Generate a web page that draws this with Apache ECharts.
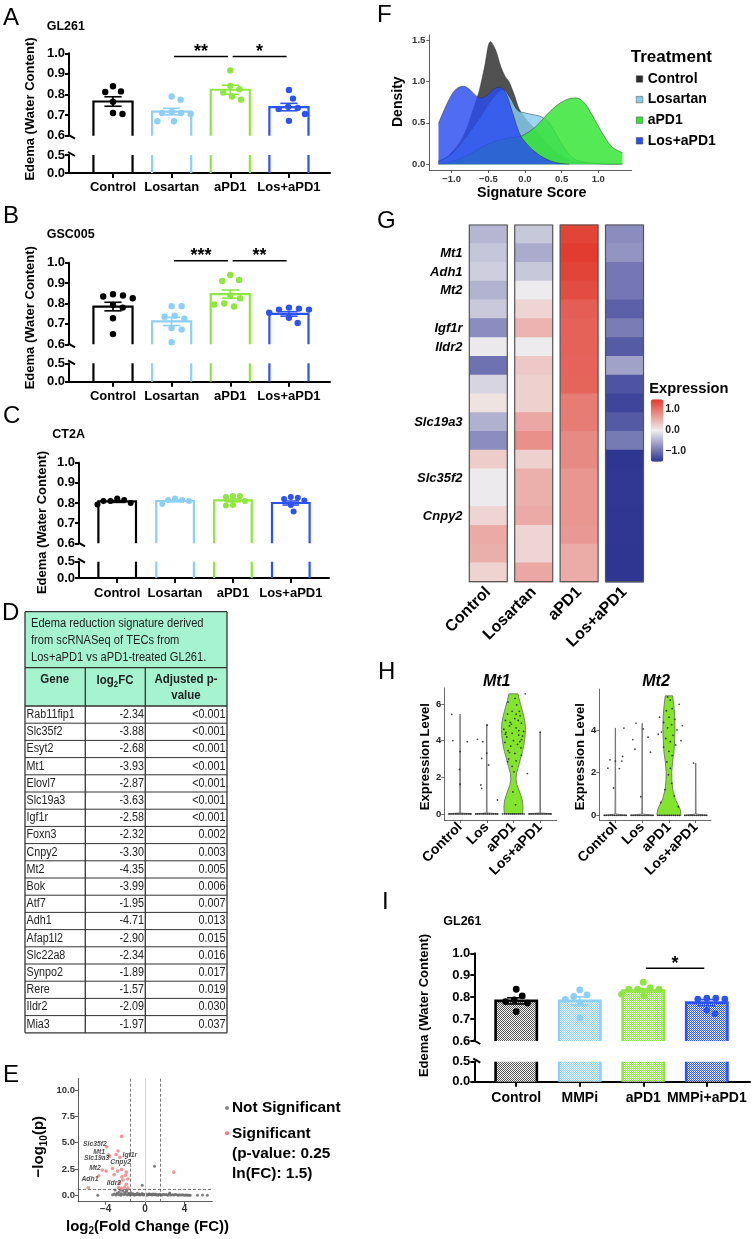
<!DOCTYPE html>
<html>
<head>
<meta charset="utf-8">
<script src="https://cdn.jsdelivr.net/npm/echarts@6.0.0/dist/echarts.min.js"></script>
<style>
html,body{margin:0;padding:0;background:#fff;}
#chart{width:752px;height:1239px;}
</style>
</head>
<body>
<div id="chart"></div>
<script>
// ================= DATA =================
const barCats = ['Control', 'Losartan', 'aPD1', 'Los+aPD1'];
const mmpiCats = ['Control', 'MMPi', 'aPD1', 'MMPi+aPD1'];

// Panel A – GL261
const meanA = [0.766, 0.717, 0.823, 0.739];
const semA = [0.023, 0.016, 0.022, 0.018];
const dotsA = [
  [0.84, 0.812, 0.815, 0.765, 0.705, 0.71],
  [0.79, 0.775, 0.715, 0.71, 0.71, 0.705, 0.67, 0.67],
  [0.917, 0.842, 0.826, 0.81, 0.79, 0.775],
  [0.822, 0.78, 0.74, 0.735, 0.73, 0.705, 0.672]
];
const sigA = [[1, 2, '**'], [2, 3, '*']];

// Panel B – GSC005
const meanB = [0.785, 0.712, 0.846, 0.749];
const semB = [0.021, 0.02, 0.02, 0.011];
const dotsB = [
  [0.845, 0.839, 0.834, 0.826, 0.793, 0.78, 0.728, 0.65],
  [0.787, 0.787, 0.74, 0.735, 0.725, 0.68, 0.672, 0.61],
  [0.94, 0.915, 0.91, 0.84, 0.825, 0.80, 0.795, 0.785],
  [0.78, 0.775, 0.77, 0.77, 0.755, 0.73, 0.705]
];
const sigB = [[1, 2, '***'], [2, 3, '**']];

// Panel C – CT2A
const meanC = [0.808, 0.81, 0.813, 0.80];
const semC = [0.005, 0.004, 0.007, 0.01];
const dotsC = [
  [0.822, 0.815, 0.81, 0.81, 0.80, 0.792],
  [0.822, 0.815, 0.815, 0.81, 0.795],
  [0.835, 0.835, 0.83, 0.81, 0.79, 0.788],
  [0.83, 0.826, 0.82, 0.812, 0.79, 0.758]
];

// Panel I – GL261 MMPi
const meanI = [0.783, 0.783, 0.83, 0.775];
const semI = [0.014, 0.018, 0.008, 0.014];
const dotsI = [
  [0.836, 0.806, 0.788, 0.78, 0.773, 0.734],
  [0.833, 0.81, 0.803, 0.79, 0.774, 0.705],
  [0.868, 0.843, 0.836, 0.836, 0.836, 0.813, 0.806],
  [0.795, 0.795, 0.791, 0.791, 0.74, 0.724]
];
const sigI = [[2, 3, '*']];

// Panel D – table
const tableTitle = ['Edema reduction signature derived', 'from scRNASeq of TECs from', 'Los+aPD1 vs aPD1-treated GL261.'];
const tableGenes = ['Rab11fip1', 'Slc35f2', 'Esyt2', 'Mt1', 'Elovl7', 'Slc19a3', 'Igf1r', 'Foxn3', 'Cnpy2', 'Mt2', 'Bok', 'Atf7', 'Adh1', 'Afap1l2', 'Slc22a8', 'Synpo2', 'Rere', 'Ildr2', 'Mia3'];
const tableLog2FC = ['-2.34', '-3.88', '-2.68', '-3.93', '-2.87', '-3.63', '-2.58', '-2.32', '-3.30', '-4.35', '-3.99', '-1.95', '-4.71', '-2.90', '-2.34', '-1.89', '-1.57', '-2.09', '-1.97'];
const tablePadj = ['<0.001', '<0.001', '<0.001', '<0.001', '<0.001', '<0.001', '<0.001', '0.002', '0.003', '0.005', '0.006', '0.007', '0.013', '0.015', '0.016', '0.017', '0.019', '0.030', '0.037'];

// Panel E – volcano
const volcanoNS = [[-3.3,0.05],[-3.12,0.14],[-2.97,0.03],[-2.83,0.22],[-2.71,0.08],[-2.62,0.31],[-2.49,0.02],[-2.41,0.16],[-2.28,0.42],[-2.19,0.06],[-2.08,0.24],[-1.98,0.1],[-1.9,0.36],[-1.79,0.04],[-1.68,0.19],[-1.61,0.12],[-1.52,0.03],[-1.43,0.26],[-1.31,0.08],[-1.22,0.15],[-1.1,0.02],[-1.02,0.11],[-0.91,0.05],[-0.8,0.19],[-0.71,0.07],[-0.6,0.13],[-0.52,0.03],[-0.4,0.09],[-0.31,0.17],[-0.2,0.04],[-0.12,0.11],[0.01,0.06],[0.09,0.14],[0.21,0.02],[0.3,0.08],[0.41,0.15],[0.5,0.05],[0.62,0.1],[0.7,0.03],[0.81,0.12],[0.9,0.06],[1.02,0.14],[1.1,0.04],[1.21,0.09],[1.33,0.02],[1.42,0.11],[1.56,0.06],[1.69,0.03],[1.83,0.1],[1.98,0.05],[2.14,0.08],[2.29,0.02],[2.43,0.12],[2.58,0.04],[2.76,0.07],[2.91,0.03],[3.04,0.09],[3.21,0.05],[3.36,0.02],[3.49,0.06],[3.66,0.03],[3.81,0.05],[3.97,0.02],[4.12,0.04],[4.27,0.03],[4.41,0.01],[4.56,0.02],[5.3,0.02],[5.8,0.03],[6.3,0.02],[-4.8,0.02],[0.95,2.75],[-0.3,0.95],[2.5,0.22],[-3.05,0.5],[-2.5,0.55],[-1.85,0.5]];
const volcanoSig = [[-2.38,5.59],[-3.9,4.6],[-2.75,4.2],[-2.95,3.88],[-3.7,3.85],[-3.6,3.7],[-2.55,3.6],[-3.3,2.55],[-4.35,2.4],[-3.95,2.3],[-4.7,1.85],[-2.8,2.3],[-2.4,2.45],[-1.9,2.2],[-3.15,1.95],[-2.35,1.75],[-2.0,1.9],[-1.75,1.55],[-2.25,1.45],[-2.6,1.2],[-1.9,1.05],[-2.1,0.8],[-2.7,0.75],[-1.75,0.7],[-2.4,0.65],[-5.76,0.72],[2.9,2.2]];
const volcanoSigGene = ['', 'Slc35f2', '', '', 'Mt1', 'Slc19a3', 'Igf1r', 'Cnpy2', 'Mt2', '', 'Adh1', '', '', '', '', '', '', '', '', '', '', 'Ildr2', '', '', '', '', ''];
const pThreshold = 0.25;
const fcThreshold = 1.5;

// Panel F – density of signature score
const densNames = ['Control', 'Losartan', 'aPD1', 'Los+aPD1'];
const densCtrlX = [-1.18,-1.05,-0.9,-0.8,-0.7,-0.62,-0.55,-0.47,-0.4,-0.33,-0.27,-0.22,-0.15,-0.08,0.0,0.1,0.2,0.3,0.4,0.5,0.6,0.75,0.9,1.05,1.2,1.33];
const densCtrlY = [0.04,0.1,0.25,0.42,0.68,0.9,1.18,1.48,1.38,1.18,1.06,1.0,0.85,0.67,0.56,0.46,0.36,0.26,0.17,0.1,0.05,0.02,0.01,0.005,0.002,0.001];
const densLosX = [-1.18,-1.0,-0.8,-0.6,-0.45,-0.3,-0.2,-0.1,0.0,0.1,0.2,0.3,0.4,0.5,0.6,0.7,0.85,1.0,1.15,1.33];
const densLosY = [0.03,0.12,0.33,0.58,0.78,0.9,0.8,0.65,0.62,0.6,0.58,0.53,0.4,0.25,0.12,0.05,0.02,0.008,0.003,0.001];
const densAPD1X = [-1.18,-1.0,-0.8,-0.6,-0.4,-0.2,-0.05,0.1,0.2,0.3,0.45,0.6,0.7,0.8,0.9,1.0,1.1,1.2,1.33];
const densAPD1Y = [0.005,0.03,0.1,0.2,0.28,0.32,0.34,0.42,0.5,0.6,0.72,0.79,0.8,0.75,0.62,0.46,0.31,0.2,0.14];
const densComboX = [-1.18,-1.1,-1.0,-0.92,-0.84,-0.75,-0.67,-0.6,-0.52,-0.44,-0.35,-0.29,-0.24,-0.19,-0.15,-0.1,-0.05,0.05,0.15,0.25,0.35,0.45,0.6];
const densComboY = [0.49,0.66,0.84,0.92,0.94,0.9,0.83,0.8,0.83,0.9,0.93,0.9,0.82,0.68,0.57,0.43,0.33,0.22,0.14,0.08,0.04,0.015,0.0];

// Panel G – heatmap (19 genes x 4 groups)
const heatCols = ['Control', 'Losartan', 'aPD1', 'Los+aPD1'];
const heatRowLabels = ['', 'Mt1', 'Adh1', 'Mt2', '', 'Igf1r', 'Ildr2', '', '', '', 'Slc19a3', '', '', 'Slc35f2', '', 'Cnpy2', '', '', ''];
const heatControl = [-0.44,-0.32,-0.25,-0.47,-0.29,-0.77,-0.04,-0.98,-0.2,0.09,-0.48,-0.77,0.28,-0.03,-0.03,0.21,0.56,0.52,0.22];
const heatLosartan = [-0.3,-0.53,-0.3,-0.02,0.21,0.48,-0.02,0.31,0.25,0.25,0.58,0.77,0.25,0.51,0.51,0.56,0.21,0.21,0.58];
const heatAPD1 = [1.4,1.46,1.4,1.33,1.18,1.15,1.15,1.14,1.13,0.94,0.94,0.82,0.82,0.72,0.72,0.72,0.7,0.54,0.54];
const heatLosAPD1 = [-0.77,-0.71,-0.94,-0.94,-1.12,-0.9,-1.16,-0.6,-1.22,-1.34,-1.17,-0.91,-1.46,-1.44,-1.44,-1.45,-1.45,-1.46,-1.46];

// Panel H – violins
const vlnCats = ['Control', 'Los', 'aPD1', 'Los+aPD1'];
const mt1Max = [5.45, 4.9, 6.55, 4.48];
const mt1APD1V = [0,0.15,0.4,0.7,1.0,1.3,1.6,1.9,2.2,2.6,3.0,3.4,3.8,4.2,4.6,5.0,5.4,5.8,6.2,6.55];
const mt1APD1D = [0.75,0.78,0.79,0.75,0.62,0.46,0.29,0.22,0.25,0.42,0.58,0.75,0.88,0.96,1,0.96,0.83,0.67,0.5,0.38];
const mt2Max = [4.09, 4.31, 5.6, 2.45];
const mt2APD1V = [0,0.25,0.5,0.75,1.2,1.6,2.0,2.5,3.0,3.5,4.0,4.5,5.0,5.6];
const mt2APD1D = [1,0.95,0.75,0.53,0.32,0.25,0.23,0.3,0.42,0.47,0.5,0.49,0.43,0.31];
const vlnZeroOffsets = [-0.41,-0.34,-0.26,-0.18,-0.11,-0.04,0.03,0.1,0.18,0.25,0.33,0.4];
const mt1Points = [
  [[-0.31,5.43],[-0.27,4.0],[0.27,3.94],[0,3.4],[-0.02,2.43],[0,1.62]],
  [[-0.35,4.07],[-0.15,3.94],[-0.19,3.03],[0,3.31],[-0.22,1.58],[-0.19,1.4],[0.02,4.85],[0.07,2.67],[0.4,0.76]],
  [[-0.2,6.1],[0.12,5.95],[-0.05,5.6],[0.25,5.35],[-0.3,5.1],[0.05,5.2],[0.3,4.95],[-0.15,4.8],[0.1,4.7],[-0.36,4.62],[0.38,4.5],[-0.05,4.4],[0.2,4.3],[-0.25,4.2],[0.3,4.05],[0.0,4.0],[-0.32,3.9],[0.15,3.8],[-0.1,3.7],[0.28,3.6],[-0.2,3.45],[0.05,3.3],[0.3,3.2],[-0.18,3.0],[0.1,2.9],[-0.22,2.85],[-0.05,2.6],[0.02,2.3],[0.52,2.2],[0.2,4.55],[-0.12,5.0],[0.22,5.6],[0.44,6.55],[-0.28,4.45],[0.34,4.25],[-0.08,4.9],[0.18,5.1],[-0.22,5.45],[0.06,6.3],[-0.15,3.35],[0.24,3.95],[-0.3,4.35],[0.1,5.45],[-0.02,1.2],[0.08,0.5]],
  [[0,4.45]]
];
const mt2Points = [
  [[-0.28,2.21],[0,2.54],[0.24,2.54],[0.15,2.19],[0.27,2.76],[0.32,4.09],[-0.07,1.28],[-0.2,2.6]],
  [[-0.23,4.31],[-0.27,3.1],[-0.05,0.87],[0.22,3.66],[0.31,2.96],[0.04,4.05],[-0.35,3.55]],
  [[-0.05,5.55],[0.05,5.4],[0.12,5.0],[-0.1,4.9],[0.0,4.6],[0.22,4.5],[-0.2,4.35],[0.1,4.25],[-0.05,4.1],[0.3,4.0],[-0.28,3.9],[0.15,3.75],[-0.12,3.6],[0.05,3.45],[0.25,3.3],[-0.2,3.2],[0.0,3.0],[0.12,2.8],[-0.08,2.5],[0.05,2.2],[-0.02,1.9],[0.1,1.5],[-0.15,1.2],[0.2,0.9],[-0.3,0.6],[0.35,0.4],[0.45,3.5],[-0.4,3.8],[0.5,4.2],[-0.35,4.6],[0.38,5.2]],
  [[-0.08,2.45]]
];

// ================= STYLE / LAYOUT =================
const FONT = "'Liberation Sans', Arial, Helvetica, sans-serif";
const groupColors = ['#000000', '#8ecff5', '#8fe640', '#2d52f2'];
const grid = [], xAxis = [], yAxis = [], series = [], graphic = [];

function font(size, weight, italic) {
  return (italic ? 'italic ' : '') + (weight || 'normal') + ' ' + size + 'px ' + FONT;
}
function T(text, x, y, o) {
  o = o || {};
  const st = {
    text: text, fill: o.color || '#000', font: font(o.size || 13, o.weight, o.italic),
    textAlign: o.align || 'left', textVerticalAlign: o.va || 'middle',
    align: o.align || 'left', verticalAlign: o.va || 'middle'
  };
  if (o.rich) st.rich = o.rich;
  graphic.push({type: 'text', x: x, y: y, rotation: o.rot || 0, scaleX: o.sx || 1, scaleY: 1, silent: true, z: 100, style: st});
}
function L(x1, y1, x2, y2, w, c) {
  graphic.push({type: 'line', silent: true, z: 90, shape: {x1: x1, y1: y1, x2: x2, y2: y2}, style: {stroke: c || '#333', lineWidth: w || 1}});
}

function makePattern(col) {
  const c = document.createElement('canvas');
  c.width = 2; c.height = 2;
  const g = c.getContext('2d');
  g.fillStyle = '#ffffff'; g.fillRect(0, 0, 2, 2);
  g.fillStyle = col; g.fillRect(0, 0, 1, 1); g.fillRect(1, 1, 1, 1);
  return {image: c, repeat: 'repeat'};
}

// simple deterministic beeswarm in pixel space (layout only)
function swarm(ys, gap) {
  const order = ys.map((y, i) => i).sort((a, b) => ys[a] - ys[b]);
  const placed = [], res = new Array(ys.length);
  order.forEach(i => {
    const y = ys[i];
    let best = 0;
    for (let k = 0; k < 400; k++) {
      const off = k === 0 ? 0 : (k % 2 === 1 ? 1 : -1) * Math.ceil(k / 2) * 0.25;
      let ok = true;
      for (const p of placed) {
        const dx = p[0] - off, dy = p[1] - y;
        if (dx * dx + dy * dy < gap * gap) { ok = false; break; }
      }
      if (ok) { best = off; break; }
    }
    placed.push([best, y]); res[i] = best;
  });
  return res;
}

function yAxisBar(gi, vals) {
  return {
    gridIndex: gi, type: 'value', min: vals[0], max: vals[vals.length - 1],
    axisLine: {show: true, onZero: false, lineStyle: {color: '#000', width: 2}},
    axisTick: {show: true, customValues: vals, length: 4, lineStyle: {color: '#000', width: 2}},
    axisLabel: {customValues: vals, color: '#000', fontSize: 13, fontWeight: 'bold', fontFamily: FONT, margin: 4, formatter: v => v.toFixed(1)},
    splitLine: {show: false}
  };
}

function barPanel(p) {
  const gu = grid.length; grid.push({left: p.left, top: p.upTop, width: p.width, height: p.upH});
  const gl = grid.length; grid.push({left: p.left, top: p.loTop, width: p.width, height: p.loH});
  const xu = xAxis.length; xAxis.push({gridIndex: gu, type: 'value', min: p.xmin, max: p.xmax, show: false});
  const xl = xAxis.length;
  xAxis.push({
    gridIndex: gl, type: 'value', min: p.xmin, max: p.xmax,
    axisLine: {show: true, onZero: false, lineStyle: {color: '#000', width: 2}},
    axisTick: {show: true, customValues: [0, 1, 2, 3], length: 5, lineStyle: {color: '#000', width: 2}},
    axisLabel: {customValues: [0, 1, 2, 3], formatter: v => p.cats[Math.round(v)], color: '#000', fontSize: p.xfs, fontWeight: 'bold', fontFamily: FONT, margin: p.xm},
    splitLine: {show: false}
  });
  const yu = yAxis.length; yAxis.push(yAxisBar(gu, [0.6, 0.7, 0.8, 0.9, 1.0]));
  const yl = yAxis.length; yAxis.push(yAxisBar(gl, [0, 0.5]));

  series.push({
    type: 'custom', xAxisIndex: xu, yAxisIndex: yu, silent: true, z: 3,
    data: p.mean.map((m, i) => [i, m, p.sem[i]]),
    renderItem: function (params, api) {
      const i = api.value(0), m = api.value(1), s = api.value(2);
      const c = api.coord([i, m]), b = api.coord([i, 0.6]);
      const bw = api.size([p.barW, 0])[0];
      const col = groupColors[i];
      const xa = c[0] - bw / 2, xb = c[0] + bw / 2;
      const ch = [];
      if (p.patterns) ch.push({type: 'rect', shape: {x: xa, y: c[1], width: bw, height: b[1] - c[1]}, style: {fill: p.patterns[i]}});
      ch.push({type: 'polyline', shape: {points: [[xa, b[1]], [xa, c[1]], [xb, c[1]], [xb, b[1]]]}, style: {stroke: col, lineWidth: p.lw, fill: null}});
      const ys = p.dots[i].map(v => api.coord([i, v])[1]);
      const offs = swarm(ys, p.dotGap);
      ys.forEach((y, k) => ch.push({type: 'circle', shape: {cx: c[0] + offs[k], cy: y, r: p.dotR}, style: {fill: col}}));
      const et = api.coord([i, m + s])[1], eb = api.coord([i, m - s])[1], cw = bw * 0.22;
      ch.push({type: 'line', shape: {x1: c[0], y1: et, x2: c[0], y2: eb}, style: {stroke: col, lineWidth: 1.6}});
      ch.push({type: 'line', shape: {x1: c[0] - cw, y1: et, x2: c[0] + cw, y2: et}, style: {stroke: col, lineWidth: 1.6}});
      ch.push({type: 'line', shape: {x1: c[0] - cw, y1: eb, x2: c[0] + cw, y2: eb}, style: {stroke: col, lineWidth: 1.6}});
      if (params.dataIndex === 0) {
        const a = api.coord([p.xmin, 0.6]);
        ch.push({type: 'line', shape: {x1: a[0] - 1, y1: a[1] - 1, x2: a[0] + 6, y2: a[1] + 3}, style: {stroke: '#000', lineWidth: 2}});
      }
      return {type: 'group', children: ch};
    }
  });
  series.push({
    type: 'custom', xAxisIndex: xl, yAxisIndex: yl, silent: true, z: 3,
    data: p.mean.map((m, i) => [i, 0]),
    renderItem: function (params, api) {
      const i = api.value(0);
      const t = api.coord([i, 0.5]), b = api.coord([i, 0]);
      const bw = api.size([p.barW, 0])[0];
      const col = groupColors[i];
      const xa = t[0] - bw / 2, xb = t[0] + bw / 2;
      const ch = [];
      if (p.patterns) ch.push({type: 'rect', shape: {x: xa, y: t[1], width: bw, height: b[1] - t[1]}, style: {fill: p.patterns[i]}});
      ch.push({type: 'line', shape: {x1: xa, y1: t[1], x2: xa, y2: b[1]}, style: {stroke: col, lineWidth: p.lw}});
      ch.push({type: 'line', shape: {x1: xb, y1: t[1], x2: xb, y2: b[1]}, style: {stroke: col, lineWidth: p.lw}});
      if (params.dataIndex === 0) {
        const a = api.coord([p.xmin, 0.5]);
        ch.push({type: 'line', shape: {x1: a[0] - 1, y1: a[1] - 3, x2: a[0] + 6, y2: a[1] + 1}, style: {stroke: '#000', lineWidth: 2}});
      }
      return {type: 'group', children: ch};
    }
  });
  if (p.sig) {
    series.push({
      type: 'custom', xAxisIndex: xu, yAxisIndex: yu, silent: true, z: 4,
      data: p.sig.map(s => [s[0], s[1]]),
      renderItem: function (params, api) {
        const a = api.coord([api.value(0) + 0.04, p.sigY]);
        const b = api.coord([api.value(1) - 0.04, p.sigY]);
        return {type: 'group', children: [
          {type: 'line', shape: {x1: a[0], y1: a[1], x2: b[0], y2: b[1]}, style: {stroke: '#000', lineWidth: 1.5}},
          {type: 'text', x: (a[0] + b[0]) / 2, y: a[1] - 4.3, style: {text: p.sig[params.dataIndex][2], font: font(18, 'bold'), fill: '#000', align: 'center', verticalAlign: 'middle'}}
        ]};
      }
    });
  }
  T(p.letter, p.letterX, p.letterY, {size: 24});
  T(p.sub, p.subX, p.subY, {size: 12.5, weight: 'bold'});
  T('Edema (Water Content)', p.ytX, p.ytY, {size: 13, weight: 'bold', align: 'center', rot: Math.PI / 2});
}

// ---- Panels A, B, C, I ----
barPanel({cats: barCats, mean: meanA, sem: semA, dots: dotsA, sig: sigA, left: 69, width: 261, xmin: -0.75, xmax: 3.70,
  upTop: 53.3, upH: 82.4, loTop: 155, loH: 18, sigY: 0.984, barW: 0.667, dotR: 3.2, dotGap: 9.5, lw: 2.2, xfs: 13, xm: 8,
  letter: 'A', letterX: 3, letterY: 18.5, sub: 'GL261', subX: 46.7, subY: 26.7, ytX: 30, ytY: 109});
barPanel({cats: barCats, mean: meanB, sem: semB, dots: dotsB, sig: sigB, left: 69, width: 261, xmin: -0.75, xmax: 3.70,
  upTop: 262.7, upH: 81.6, loTop: 363.3, loH: 18.4, sigY: 1.01, barW: 0.667, dotR: 3.2, dotGap: 10, lw: 2.2, xfs: 13, xm: 8,
  letter: 'B', letterX: 3, letterY: 216.7, sub: 'GSC005', subX: 46.7, subY: 235, ytX: 30, ytY: 317.7});
barPanel({cats: barCats, mean: meanC, sem: semC, dots: dotsC, sig: null, left: 79, width: 250, xmin: -0.66, xmax: 3.66,
  upTop: 462.7, upH: 80.6, loTop: 561.7, loH: 16.3, sigY: 1, barW: 0.65, dotR: 3.0, dotGap: 7, lw: 2.2, xfs: 13, xm: 9,
  letter: 'C', letterX: 3, letterY: 416.7, sub: 'CT2A', subX: 52.3, subY: 435, ytX: 42, ytY: 522.5});
barPanel({cats: mmpiCats, mean: meanI, sem: semI, dots: dotsI, sig: sigI, left: 474.3, width: 275.7, xmin: -0.66, xmax: 3.68,
  upTop: 953.3, upH: 87.7, loTop: 1061.7, loH: 20, sigY: 0.932, barW: 0.65, dotR: 3.4, dotGap: 8.8, lw: 2.6, xfs: 14, xm: 9,
  patterns: ['#555555', '#8ecff5', '#8fe640', '#2d52f2'].map(makePattern),
  letter: 'I', letterX: 382, letterY: 902, sub: 'GL261', subX: 443.3, subY: 922, ytX: 424, ytY: 1005.5});

// ---- Panel D: table ----
(function () {
  const Lx = 25, Rx = 227, C1 = 85.3, C2 = 145.3, TT = 611.7, TB = 667.7, HB = 706, RH = 17.2;
  const bottom = HB + RH * tableGenes.length;
  graphic.push({type: 'rect', silent: true, z: 80, shape: {x: Lx, y: TT, width: Rx - Lx, height: HB - TT}, style: {fill: '#a6f4cf'}});
  L(Lx, TT, Rx, TT, 1.3); L(Lx, TT, Lx, bottom, 1.3); L(Rx, TT, Rx, bottom, 1.3); L(Lx, bottom, Rx, bottom, 1.3);
  L(Lx, TB, Rx, TB, 1.3); L(Lx, HB, Rx, HB, 1.3);
  L(C1, TB, C1, bottom, 1.3); L(C2, TB, C2, bottom, 1.3);
  for (let k = 1; k < tableGenes.length; k++) L(Lx, HB + RH * k, Rx, HB + RH * k, 1);
  tableTitle.forEach((t, k) => T(t, 31, 623.3 + k * 17, {size: 12.5, color: '#222', sx: 0.89}));
  T('Gene', 54.7, 680, {size: 12.5, weight: 'bold', align: 'center', color: '#222', sx: 0.92});
  T('{a|log}{b|2}{a|FC}', 115, 681, {align: 'center', sx: 0.92, rich: {
    a: {fontSize: 12.5, fontWeight: 'bold', fontFamily: FONT, fill: '#222', lineHeight: 16},
    b: {fontSize: 8.5, fontWeight: 'bold', fontFamily: FONT, fill: '#222', lineHeight: 16, verticalAlign: 'bottom'}}});
  T('Adjusted p-', 186, 680, {size: 12.5, weight: 'bold', align: 'center', color: '#222', sx: 0.92});
  T('value', 186, 696, {size: 12.5, weight: 'bold', align: 'center', color: '#222', sx: 0.92});
  tableGenes.forEach((g, i) => {
    const y = HB + RH * (i + 0.5);
    T(g, 26.5, y, {size: 12.5, color: '#222', sx: 0.86});
    T(tableLog2FC[i], 144, y, {size: 12.5, color: '#222', sx: 0.86, align: 'right'});
    T(tablePadj[i], 225.5, y, {size: 12.5, color: '#222', sx: 0.86, align: 'right'});
  });
  T('D', 2, 613.5, {size: 24});
})();

// ---- Panel E: volcano ----
(function () {
  const g = grid.length; grid.push({left: 78, top: 1078.3, width: 134.3, height: 123.4});
  const xi = xAxis.length;
  xAxis.push({gridIndex: g, type: 'value', min: -6.8, max: 6.8,
    axisLine: {onZero: false, lineStyle: {color: '#333', width: 0.8}},
    axisTick: {customValues: [-4, 0, 4], length: 3, lineStyle: {color: '#333', width: 0.8}},
    axisLabel: {customValues: [-4, 0, 4], formatter: v => (v < 0 ? '\u2212' : '') + Math.abs(v), fontSize: 10, fontWeight: 'bold', color: '#333', margin: 3, fontFamily: FONT},
    splitLine: {show: false}});
  const yi = yAxis.length;
  yAxis.push({gridIndex: g, type: 'value', min: -0.6, max: 11.1,
    axisLine: {onZero: false, lineStyle: {color: '#333', width: 0.8}},
    axisTick: {customValues: [0, 2.5, 5, 7.5, 10], length: 3, lineStyle: {color: '#333', width: 0.8}},
    axisLabel: {customValues: [0, 2.5, 5, 7.5, 10], formatter: v => v.toFixed(1), fontSize: 9.5, fontWeight: 'bold', color: '#333', margin: 3, fontFamily: FONT},
    splitLine: {show: false}});
  series.push({type: 'scatter', name: 'Not Significant', xAxisIndex: xi, yAxisIndex: yi, silent: true, symbolSize: 3,
    itemStyle: {color: '#6a6a6a', opacity: 0.85}, data: volcanoNS,
    markLine: {silent: true, symbol: ['none', 'none'], label: {show: false}, animation: false,
      lineStyle: {type: [3, 2], color: '#555', width: 0.8},
      data: [{xAxis: 0, lineStyle: {type: 'solid', color: '#d6d6d6', width: 1}}, {xAxis: -fcThreshold}, {xAxis: fcThreshold}, {yAxis: -Math.log10(pThreshold)}]}});
  const labelOffsets = {Slc35f2: [-11.7, -2.5], Mt1: [-9.4, -2.2], Slc19a3: [-13, 1.6], Mt2: [-7.2, -2.2], Adh1: [-8.8, 3.3], Igf1r: [9.9, -2.1], Cnpy2: [8.1, -6], Ildr2: [-10.5, -4.1]};
  series.push({type: 'scatter', name: 'Significant', xAxisIndex: xi, yAxisIndex: yi, silent: true, symbolSize: 3.6, z: 5,
    itemStyle: {color: '#f07a7a'},
    data: volcanoSig.map((d, i) => {
      const gname = volcanoSigGene[i];
      if (!gname) return d;
      return {value: d, label: {show: true, formatter: gname, position: 'inside', offset: labelOffsets[gname],
        fontSize: 6.8, fontWeight: 'bold', fontStyle: 'italic', color: '#222', fontFamily: FONT}};
    })});
  T('{a|\u2212log}{b|10}{a|(p)}', 39, 1146.7, {align: 'center', rot: Math.PI / 2, rich: {
    a: {fontSize: 15, fontWeight: 'bold', fontFamily: FONT, fill: '#000', lineHeight: 20},
    b: {fontSize: 10, fontWeight: 'bold', fontFamily: FONT, fill: '#000', lineHeight: 20, verticalAlign: 'bottom'}}});
  T('{a|log}{b|2}{a|(Fold Change (FC))}', 147.5, 1226.7, {align: 'center', rich: {
    a: {fontSize: 15, fontWeight: 'bold', fontFamily: FONT, fill: '#000', lineHeight: 20},
    b: {fontSize: 10, fontWeight: 'bold', fontFamily: FONT, fill: '#000', lineHeight: 20, verticalAlign: 'bottom'}}});
  graphic.push({type: 'circle', silent: true, z: 100, shape: {cx: 227, cy: 1108, r: 2}, style: {fill: '#8a8a8a'}});
  graphic.push({type: 'circle', silent: true, z: 100, shape: {cx: 227, cy: 1133.3, r: 2}, style: {fill: '#f07a7a'}});
  T('Not Significant', 232, 1108, {size: 15.4, weight: 'bold'});
  T('Significant', 232, 1133.3, {size: 15.4, weight: 'bold'});
  T('(p-value: ' + pThreshold + '', 232, 1153.3, {size: 15.4, weight: 'bold'});
  T('ln(FC): ' + fcThreshold + ')', 232, 1173.3, {size: 15.4, weight: 'bold'});
  T('E', 3, 1075.5, {size: 24});
})();

// ---- Panel F: density ----
(function () {
  const g = grid.length; grid.push({left: 429.3, top: 35, width: 202.4, height: 135});
  const xi = xAxis.length;
  const fmt = v => (v < 0 ? '\u2212' : '') + Math.abs(v).toFixed(1);
  xAxis.push({gridIndex: g, type: 'value', min: -1.305, max: 1.456,
    axisLine: {onZero: false, lineStyle: {color: '#333', width: 0.8}},
    axisTick: {customValues: [-1, -0.5, 0, 0.5, 1], length: 3, lineStyle: {color: '#333', width: 0.8}},
    axisLabel: {customValues: [-1, -0.5, 0, 0.5, 1], formatter: fmt, fontSize: 9.5, fontWeight: 'bold', color: '#333', margin: 4, fontFamily: FONT},
    splitLine: {show: false}});
  const yi = yAxis.length;
  yAxis.push({gridIndex: g, type: 'value', min: -0.07, max: 1.56,
    axisLine: {onZero: false, lineStyle: {color: '#333', width: 0.8}},
    axisTick: {customValues: [0, 0.5, 1, 1.5], length: 3, lineStyle: {color: '#333', width: 0.8}},
    axisLabel: {customValues: [0, 0.5, 1, 1.5], formatter: v => v.toFixed(1), fontSize: 9.5, fontWeight: 'bold', color: '#333', margin: 4, fontFamily: FONT},
    splitLine: {show: false}});
  const fills = ['#2b2b2b', '#87ceeb', '#30e430', '#2a4cf0'];
  const xs = [densCtrlX, densLosX, densAPD1X, densComboX];
  const ys = [densCtrlY, densLosY, densAPD1Y, densComboY];
  densNames.forEach((n, k) => {
    series.push({type: 'line', name: n, xAxisIndex: xi, yAxisIndex: yi, silent: true, smooth: 0.35, symbol: 'none',
      z: 2 + k, color: fills[k], itemStyle: {color: fills[k]},
      lineStyle: {color: '#2a2a2a', width: 0.6, opacity: 0.8},
      areaStyle: {color: fills[k], opacity: 0.82},
      data: xs[k].map((x, i) => [x, ys[k][i]])});
  });
  T('Density', 398.3, 101.7, {size: 14, weight: 'bold', align: 'center', rot: Math.PI / 2});
  T('Signature Score', 531.7, 193.5, {size: 14.3, weight: 'bold', align: 'center'});
  T('Treatment', 630.7, 57.3, {size: 17, weight: 'bold'});
  T('F', 377, 15, {size: 24});
})();

// ---- Panel G: heatmap ----
let heatSeriesIndex;
(function () {
  const g = grid.length; grid.push({left: 465.6, top: 225, width: 181.6, height: 356.7});
  const xi = xAxis.length;
  xAxis.push({gridIndex: g, type: 'category', data: heatCols,
    axisLine: {show: false}, axisTick: {show: false},
    axisLabel: {rotate: 45, fontSize: 16, fontWeight: 'bold', color: '#000', margin: 8, fontFamily: FONT, interval: 0},
    splitLine: {show: false}});
  const yi = yAxis.length;
  yAxis.push({gridIndex: g, type: 'category', inverse: true, data: heatRowLabels.map((l, i) => 'r' + i),
    axisLine: {show: false}, axisTick: {show: false},
    axisLabel: {interval: 0, formatter: (v, i) => heatRowLabels[i], fontSize: 13, fontWeight: 'bold', fontStyle: 'italic', color: '#000', margin: 3, fontFamily: FONT},
    splitLine: {show: false}});
  const cols = [heatControl, heatLosartan, heatAPD1, heatLosAPD1];
  const data = [];
  cols.forEach((arr, c) => arr.forEach((v, r) => data.push([c, r, v])));
  heatSeriesIndex = series.length;
  series.push({type: 'custom', xAxisIndex: xi, yAxisIndex: yi, silent: true, encode: {x: 0, y: 1}, data: data,
    renderItem: function (params, api) {
      const c = api.coord([api.value(0), api.value(1)]);
      const sz = api.size([1, 1]);
      const w = sz[0] * 0.837, h = sz[1];
      return {type: 'rect', shape: {x: c[0] - w / 2, y: c[1] - h / 2 - 0.5, width: w, height: h + 1.2}, style: {fill: api.visual('color'), stroke: null}};
    }});
  series.push({type: 'custom', xAxisIndex: xi, yAxisIndex: yi, silent: true, z: 5, data: heatCols.map((n, i) => [i, 0]),
    renderItem: function (params, api) {
      const i = api.value(0);
      const top = api.coord([i, 0]);
      const bot = api.coord([i, heatRowLabels.length - 1]);
      const sz = api.size([1, 1]);
      const w = sz[0] * 0.837;
      return {type: 'rect', shape: {x: top[0] - w / 2, y: top[1] - sz[1] / 2, width: w, height: bot[1] - top[1] + sz[1]},
        style: {fill: null, stroke: '#555', lineWidth: 1.2}};
    }});
  const gc = grid.length; grid.push({left: 650.7, top: 399.3, width: 12.6, height: 62.4});
  xAxis.push({gridIndex: gc, type: 'value', show: false, min: 0, max: 1});
  yAxis.push({gridIndex: gc, type: 'value', position: 'right', min: -1.48, max: 1.48,
    axisLine: {show: false}, axisTick: {show: false},
    axisLabel: {customValues: [-1, 0, 1], formatter: v => (v < 0 ? '\u2212' : '') + Math.abs(v).toFixed(1), fontSize: 10.5, fontWeight: 'bold', color: '#222', margin: 2, fontFamily: FONT},
    splitLine: {show: false}});
  T('Expression', 649.3, 389.3, {size: 14.7, weight: 'bold'});
  T('G', 377, 221.7, {size: 24});
})();

// ---- Panel H: violins ----
function vlnPanel(q) {
  const g = grid.length; grid.push({left: q.left, top: q.top, width: q.width, height: q.height});
  const xi = xAxis.length;
  xAxis.push({gridIndex: g, type: 'value', min: q.xmin, max: q.xmax,
    axisLine: {onZero: false, lineStyle: {color: '#444', width: 0.8}},
    axisTick: {customValues: [0, 1, 2, 3], length: 3, lineStyle: {color: '#444', width: 0.8}},
    axisLabel: {customValues: [0, 1, 2, 3], formatter: v => vlnCats[Math.round(v)], rotate: 45, fontSize: 14, fontWeight: 'bold', color: '#000', margin: 5, fontFamily: FONT},
    splitLine: {show: false}});
  const yi = yAxis.length;
  yAxis.push({gridIndex: g, type: 'value', min: q.ymin, max: q.ymax,
    axisLine: {onZero: false, lineStyle: {color: '#444', width: 0.8}},
    axisTick: {customValues: q.yticks, length: 3, lineStyle: {color: '#444', width: 0.8}},
    axisLabel: {customValues: q.yticks, fontSize: 9.5, fontWeight: 'bold', color: '#222', margin: 3, fontFamily: FONT},
    splitLine: {show: false}});
  const profiles = q.max.map((mx, i) => i === 2 ? {v: q.apdV, d: q.apdD} : {v: [0, 0.06, mx], d: [0.97, 0.03, 0.012]});
  series.push({type: 'custom', xAxisIndex: xi, yAxisIndex: yi, silent: true, data: [[0, 0], [1, 0], [2, 0], [3, 0]],
    renderItem: function (params, api) {
      const i = params.dataIndex, pr = profiles[i], pts = [];
      for (let k = 0; k < pr.v.length; k++) pts.push(api.coord([i + pr.d[k] * q.W, pr.v[k]]));
      for (let k = pr.v.length - 1; k >= 0; k--) pts.push(api.coord([i - pr.d[k] * q.W, pr.v[k]]));
      return {type: 'polygon', shape: {points: pts}, style: {fill: i === 2 ? '#82e42c' : '#ffffff', stroke: '#666', lineWidth: 0.8}};
    }});
  const pd = [];
  q.points.forEach((arr, gi) => {
    vlnZeroOffsets.forEach(o => pd.push([gi + o, 0]));
    arr.forEach(p => pd.push([gi + p[0], p[1]]));
  });
  series.push({type: 'scatter', xAxisIndex: xi, yAxisIndex: yi, silent: true, symbolSize: 1.8, z: 4, itemStyle: {color: '#1a1a1a'}, data: pd});
  T(q.title, q.titleX, 681.7, {size: 16, weight: 'bold', italic: true, align: 'center'});
  T('Expression Level', q.ytX, 756.7, {size: 13, weight: 'bold', align: 'center', rot: Math.PI / 2});
}
vlnPanel({left: 444.3, top: 688, width: 112.4, height: 132, xmin: -0.59, xmax: 3.62, ymin: -0.33, ymax: 6.87, yticks: [0, 2, 4, 6],
  W: 0.45, max: mt1Max, apdV: mt1APD1V, apdD: mt1APD1D, points: mt1Points, title: 'Mt1', titleX: 496.7, ytX: 425});
vlnPanel({left: 599.3, top: 689, width: 111.7, height: 131, xmin: -0.6, xmax: 3.57, ymin: -0.22, ymax: 5.92, yticks: [0, 2, 4],
  W: 0.45, max: mt2Max, apdV: mt2APD1V, apdD: mt2APD1D, points: mt2Points, title: 'Mt2', titleX: 656, ytX: 580});
T('H', 378, 672.5, {size: 24});

// ================= OPTION =================
const option = {
  animation: false,
  backgroundColor: '#ffffff',
  textStyle: {fontFamily: FONT},
  grid: grid, xAxis: xAxis, yAxis: yAxis, series: series,
  visualMap: [{
    type: 'continuous', seriesIndex: heatSeriesIndex, dimension: 2, min: -1.48, max: 1.48,
    inRange: {color: ['#2c3391', '#f0eeee', '#e23a2e']},
    left: 650.7, top: 399.3, itemWidth: 12.6, itemHeight: 62.4, padding: 0,
    calculable: false, realtime: false, hoverLink: false, showLabel: false, text: null, orient: 'vertical'
  }],
  legend: [{
    data: densNames, orient: 'vertical', left: 636, top: 71, icon: 'rect', itemWidth: 6.5, itemHeight: 6.5, itemGap: 4.6,
    padding: 0, selectedMode: false,
    textStyle: {fontSize: 14, fontWeight: 'bold', color: '#000', fontFamily: FONT, lineHeight: 16},
    itemStyle: {borderColor: '#444', borderWidth: 0.5}
  }],
  graphic: graphic
};
const chart = echarts.init(document.getElementById('chart'), null, {renderer: 'canvas', width: 752, height: 1239});
chart.setOption(option);
</script>
</body>
</html>
